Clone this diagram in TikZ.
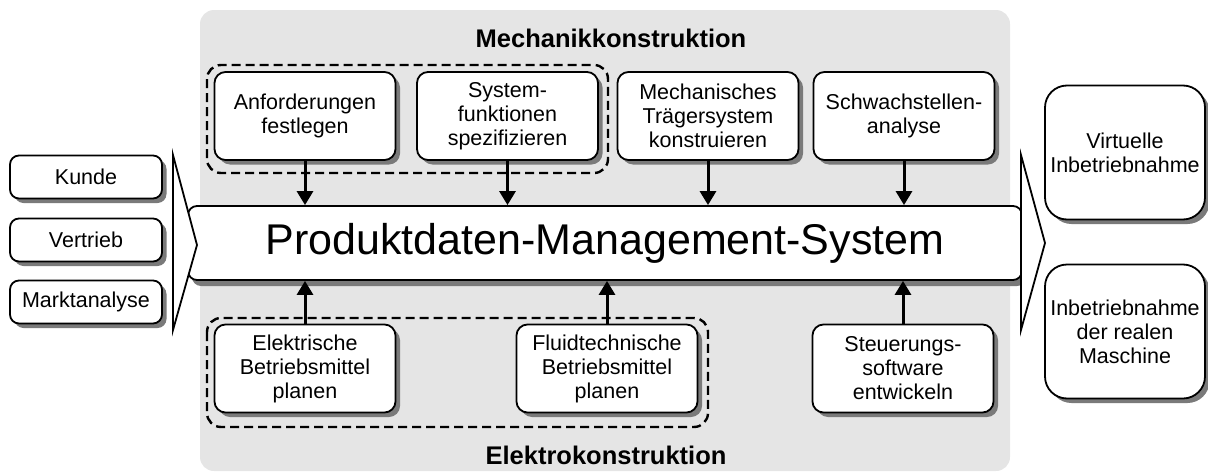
\documentclass[tikz,border=0pt]{standalone}
\usepackage{fontspec}
\setmainfont{Liberation Sans}
\usetikzlibrary{arrows.meta,shadows}
\begin{document}
\begin{tikzpicture}[x=1pt,y=-1pt,
  shade/.style={drop shadow={shadow xshift=4.5pt, shadow yshift=-4.5pt, fill=black!52, opacity=1}},
  box/.style={draw, line width=1.8pt, fill=white, rounded corners=11pt, align=center,
    inner sep=0pt, font=\fontsize{21.5}{24}\selectfont, shade},
  stepbox/.style={box, minimum width=181pt, minimum height=88pt},
  srcbox/.style={box, minimum width=152pt, minimum height=43pt, rounded corners=9pt},
  outbox/.style={box, minimum width=160pt, minimum height=134pt, rounded corners=22pt},
  group/.style={draw, line width=2.4pt, dash pattern=on 9pt off 5pt, rounded corners=14pt},
  header/.style={font=\bfseries\fontsize{25.5}{28}\selectfont, anchor=base},
  flow/.style={line width=3pt, -{Triangle[length=14pt,width=16pt]}},
  chevron/.style={draw, line width=1.8pt, fill=white, line join=miter}
]
\useasboundingbox (0,0) rectangle (1208,474);

% shaded working area
\fill[black!10, rounded corners=14pt] (200,10) rectangle (1010,471);

\node[header] (mechhead) at (611,47) {Mechanikkonstruktion};
\node[header] (elekhead) at (606,464) {Elektrokonstruktion};

% dashed groupings
\draw[group] (207,65) rectangle (608,173);
\draw[group] (207,318) rectangle (708,427);

% design steps above the bar
\node[stepbox] (anf)  at (305,116)   {Anforderungen\\festlegen};
\node[stepbox] (sys)  at (507.5,116) {System-\\funktionen\\spezifizieren};
\node[stepbox] (mech) at (708,116)   {Mechanisches\\Trägersystem\\konstruieren};
\node[stepbox] (schw) at (904,116)   {Schwachstellen-\\analyse};

% design steps below the bar
\node[stepbox] (elek)  at (305,368.5) {Elektrische\\Betriebsmittel\\planen};
\node[stepbox] (fluid) at (607,368.5) {Fluidtechnische\\Betriebsmittel\\planen};
\node[stepbox] (steu)  at (903,368.5) {Steuerungs-\\software\\entwickeln};

% sources on the left
\node[srcbox] (kunde)  at (86,177) {Kunde};
\node[srcbox] (vertr)  at (86,240) {Vertrieb};
\node[srcbox] (markt)  at (86,302) {Marktanalyse};

% results on the right
\node[outbox] (virt) at (1125,152.5) {Virtuelle\\Inbetriebnahme};
\node[outbox] (real) at (1125,331.5) {Inbetriebnahme\\der realen\\Maschine};

% central PDM bar
\node[draw, line width=1.8pt, fill=white, rounded corners=9pt, inner sep=0pt,
  minimum width=834pt, minimum height=74pt,
  drop shadow={shadow xshift=4pt, shadow yshift=-6pt, fill=black!52, opacity=1},
  font=\fontsize{43}{46}\selectfont] (pdm) at (605,243) {Produktdaten-Management-System};

% input and output chevrons
\draw[chevron] (173,155) -- (197,245) -- (173,330) -- cycle;
\draw[chevron] (1021,155) -- (1045,243) -- (1021,330) -- cycle;

% data flows into the PDM system
\foreach \n in {anf,sys,mech,schw}
  \draw[flow] (\n.south) -- (\n.south |- pdm.north);
\foreach \n in {elek,fluid,steu}
  \draw[flow] (\n.north) -- (\n.north |- pdm.south);
\end{tikzpicture}
\end{document}
